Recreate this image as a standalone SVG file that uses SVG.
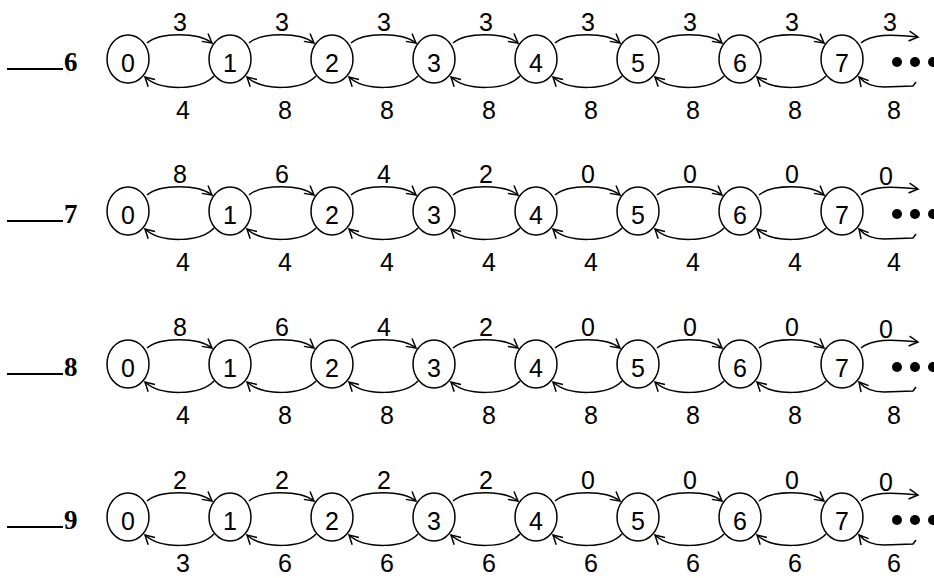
<svg xmlns="http://www.w3.org/2000/svg" width="934" height="578" viewBox="0 0 934 578">
<style>
.n ellipse{fill:#fff;stroke:#000;stroke-width:1.5}
.n text{font-family:"Liberation Sans Narrow","Liberation Sans",Arial,sans-serif;font-size:25px;text-anchor:middle;fill:#000}
.c path{fill:none;stroke:#000;stroke-width:1.5;marker-end:url(#ah)}
.lb{font-family:"Liberation Sans",Arial,sans-serif;font-size:25px;text-anchor:middle;fill:#000}
.rl line{stroke:#000;stroke-width:2}
.rl text{font-family:"Liberation Serif","Times New Roman",serif;font-weight:bold;font-size:27px;fill:#000}
.dot{fill:#000}
</style>
<defs>
<marker id="ah" markerUnits="userSpaceOnUse" markerWidth="14" markerHeight="14" refX="10" refY="5" orient="auto" viewBox="0 0 14 10" overflow="visible">
<path d="M1,0 L10,5 L1,10" fill="none" stroke="#000" stroke-width="1.5"/>
</marker>
</defs>

<!-- Row labels -->
<g id="row6" class="rl"><line x1="7" y1="69" x2="63" y2="69"/><text x="64" y="71">6</text></g>
<g id="row7" class="rl"><line x1="7" y1="221" x2="63" y2="221"/><text x="64" y="223">7</text></g>
<g id="row8" class="rl"><line x1="7" y1="374" x2="63" y2="374"/><text x="64" y="376">8</text></g>
<g id="row9" class="rl"><line x1="7" y1="527" x2="63" y2="527"/><text x="64" y="529">9</text></g>

<!-- Connectors -->
<g id="connectors" class="c">
<!-- row 1 cy=59 -->
<path d="M147,43 C160,32 198,32 212,43"/>
<path d="M249,43 C262,32 300,32 314,43"/>
<path d="M351,43 C364,32 402,32 416,43"/>
<path d="M453,43 C466,32 504,32 518,43"/>
<path d="M555,43 C568,32 606,32 620,43"/>
<path d="M657,43 C670,32 708,32 722,43"/>
<path d="M759,43 C772,32 810,32 824,43"/>
<path d="M861,43 C872,34 890,34 918,37"/>
<path d="M214,76 C200,91 160,91 145,77"/>
<path d="M316,76 C302,91 262,91 247,77"/>
<path d="M418,76 C404,91 364,91 349,77"/>
<path d="M520,76 C506,91 466,91 451,77"/>
<path d="M622,76 C608,91 568,91 553,77"/>
<path d="M724,76 C710,91 670,91 655,77"/>
<path d="M826,76 C812,91 772,91 757,77"/>
<path d="M916,82 L913,86 L884,87 C872,87 865,84 859,77"/>
<!-- row 2 cy=211 -->
<path d="M147,195 C160,184 198,184 212,195"/>
<path d="M249,195 C262,184 300,184 314,195"/>
<path d="M351,195 C364,184 402,184 416,195"/>
<path d="M453,195 C466,184 504,184 518,195"/>
<path d="M555,195 C568,184 606,184 620,195"/>
<path d="M657,195 C670,184 708,184 722,195"/>
<path d="M759,195 C772,184 810,184 824,195"/>
<path d="M861,195 C872,186 890,186 918,189"/>
<path d="M214,228 C200,243 160,243 145,229"/>
<path d="M316,228 C302,243 262,243 247,229"/>
<path d="M418,228 C404,243 364,243 349,229"/>
<path d="M520,228 C506,243 466,243 451,229"/>
<path d="M622,228 C608,243 568,243 553,229"/>
<path d="M724,228 C710,243 670,243 655,229"/>
<path d="M826,228 C812,243 772,243 757,229"/>
<path d="M916,234 L913,238 L884,239 C872,239 865,236 859,229"/>
<!-- row 3 cy=364 -->
<path d="M147,348 C160,337 198,337 212,348"/>
<path d="M249,348 C262,337 300,337 314,348"/>
<path d="M351,348 C364,337 402,337 416,348"/>
<path d="M453,348 C466,337 504,337 518,348"/>
<path d="M555,348 C568,337 606,337 620,348"/>
<path d="M657,348 C670,337 708,337 722,348"/>
<path d="M759,348 C772,337 810,337 824,348"/>
<path d="M861,348 C872,339 890,339 918,342"/>
<path d="M214,381 C200,396 160,396 145,382"/>
<path d="M316,381 C302,396 262,396 247,382"/>
<path d="M418,381 C404,396 364,396 349,382"/>
<path d="M520,381 C506,396 466,396 451,382"/>
<path d="M622,381 C608,396 568,396 553,382"/>
<path d="M724,381 C710,396 670,396 655,382"/>
<path d="M826,381 C812,396 772,396 757,382"/>
<path d="M916,387 L913,391 L884,392 C872,392 865,389 859,382"/>
<!-- row 4 cy=517 -->
<path d="M147,501 C160,490 198,490 212,501"/>
<path d="M249,501 C262,490 300,490 314,501"/>
<path d="M351,501 C364,490 402,490 416,501"/>
<path d="M453,501 C466,490 504,490 518,501"/>
<path d="M555,501 C568,490 606,490 620,501"/>
<path d="M657,501 C670,490 708,490 722,501"/>
<path d="M759,501 C772,490 810,490 824,501"/>
<path d="M861,501 C872,492 890,492 918,495"/>
<path d="M214,534 C200,549 160,549 145,535"/>
<path d="M316,534 C302,549 262,549 247,535"/>
<path d="M418,534 C404,549 364,549 349,535"/>
<path d="M520,534 C506,549 466,549 451,535"/>
<path d="M622,534 C608,549 568,549 553,535"/>
<path d="M724,534 C710,549 670,549 655,535"/>
<path d="M826,534 C812,549 772,549 757,535"/>
<path d="M916,540 L913,544 L884,545 C872,545 865,542 859,535"/>
</g>

<!-- Edge labels -->
<g id="labels" class="lb">
<text x="180" y="31">3</text><text x="282" y="31">3</text><text x="384" y="31">3</text><text x="486" y="31">3</text><text x="588" y="31">3</text><text x="690" y="31">3</text><text x="792" y="31">3</text><text x="890" y="31">3</text>
<text x="183" y="119">4</text><text x="285" y="119">8</text><text x="387" y="119">8</text><text x="489" y="119">8</text><text x="591" y="119">8</text><text x="693" y="119">8</text><text x="795" y="119">8</text><text x="894" y="119">8</text>
<text x="180" y="183">8</text><text x="282" y="183">6</text><text x="384" y="183">4</text><text x="486" y="183">2</text><text x="588" y="183">0</text><text x="690" y="183">0</text><text x="792" y="183">0</text><text x="886" y="185">0</text>
<text x="183" y="271">4</text><text x="285" y="271">4</text><text x="387" y="271">4</text><text x="489" y="271">4</text><text x="591" y="271">4</text><text x="693" y="271">4</text><text x="795" y="271">4</text><text x="894" y="271">4</text>
<text x="180" y="336">8</text><text x="282" y="336">6</text><text x="384" y="336">4</text><text x="486" y="336">2</text><text x="588" y="336">0</text><text x="690" y="336">0</text><text x="792" y="336">0</text><text x="886" y="338">0</text>
<text x="183" y="424">4</text><text x="285" y="424">8</text><text x="387" y="424">8</text><text x="489" y="424">8</text><text x="591" y="424">8</text><text x="693" y="424">8</text><text x="795" y="424">8</text><text x="894" y="424">8</text>
<text x="180" y="489">2</text><text x="282" y="489">2</text><text x="384" y="489">2</text><text x="486" y="489">2</text><text x="588" y="489">0</text><text x="690" y="489">0</text><text x="792" y="489">0</text><text x="886" y="491">0</text>
<text x="183" y="572">3</text><text x="285" y="572">6</text><text x="387" y="572">6</text><text x="489" y="572">6</text><text x="591" y="572">6</text><text x="693" y="572">6</text><text x="795" y="572">6</text><text x="894" y="572">6</text>
</g>

<!-- Nodes row 1 -->
<g id="r6n0" class="n"><ellipse cx="128" cy="59" rx="21" ry="24"/><text x="128" y="72">0</text></g>
<g id="r6n1" class="n"><ellipse cx="230" cy="59" rx="21" ry="24"/><text x="230" y="72">1</text></g>
<g id="r6n2" class="n"><ellipse cx="332" cy="59" rx="21" ry="24"/><text x="332" y="72">2</text></g>
<g id="r6n3" class="n"><ellipse cx="434" cy="59" rx="21" ry="24"/><text x="434" y="72">3</text></g>
<g id="r6n4" class="n"><ellipse cx="536" cy="59" rx="21" ry="24"/><text x="536" y="72">4</text></g>
<g id="r6n5" class="n"><ellipse cx="638" cy="59" rx="21" ry="24"/><text x="638" y="72">5</text></g>
<g id="r6n6" class="n"><ellipse cx="740" cy="59" rx="21" ry="24"/><text x="740" y="72">6</text></g>
<g id="r6n7" class="n"><ellipse cx="842" cy="59" rx="21" ry="24"/><text x="842" y="72">7</text></g>
<g id="r6more"><circle class="dot" cx="897" cy="62" r="5"/><circle class="dot" cx="915" cy="62" r="5"/><circle class="dot" cx="933" cy="62" r="5"/></g>
<!-- Nodes row 2 -->
<g id="r7n0" class="n"><ellipse cx="128" cy="211" rx="21" ry="24"/><text x="128" y="224">0</text></g>
<g id="r7n1" class="n"><ellipse cx="230" cy="211" rx="21" ry="24"/><text x="230" y="224">1</text></g>
<g id="r7n2" class="n"><ellipse cx="332" cy="211" rx="21" ry="24"/><text x="332" y="224">2</text></g>
<g id="r7n3" class="n"><ellipse cx="434" cy="211" rx="21" ry="24"/><text x="434" y="224">3</text></g>
<g id="r7n4" class="n"><ellipse cx="536" cy="211" rx="21" ry="24"/><text x="536" y="224">4</text></g>
<g id="r7n5" class="n"><ellipse cx="638" cy="211" rx="21" ry="24"/><text x="638" y="224">5</text></g>
<g id="r7n6" class="n"><ellipse cx="740" cy="211" rx="21" ry="24"/><text x="740" y="224">6</text></g>
<g id="r7n7" class="n"><ellipse cx="842" cy="211" rx="21" ry="24"/><text x="842" y="224">7</text></g>
<g id="r7more"><circle class="dot" cx="897" cy="214" r="5"/><circle class="dot" cx="915" cy="214" r="5"/><circle class="dot" cx="933" cy="214" r="5"/></g>
<!-- Nodes row 3 -->
<g id="r8n0" class="n"><ellipse cx="128" cy="364" rx="21" ry="24"/><text x="128" y="377">0</text></g>
<g id="r8n1" class="n"><ellipse cx="230" cy="364" rx="21" ry="24"/><text x="230" y="377">1</text></g>
<g id="r8n2" class="n"><ellipse cx="332" cy="364" rx="21" ry="24"/><text x="332" y="377">2</text></g>
<g id="r8n3" class="n"><ellipse cx="434" cy="364" rx="21" ry="24"/><text x="434" y="377">3</text></g>
<g id="r8n4" class="n"><ellipse cx="536" cy="364" rx="21" ry="24"/><text x="536" y="377">4</text></g>
<g id="r8n5" class="n"><ellipse cx="638" cy="364" rx="21" ry="24"/><text x="638" y="377">5</text></g>
<g id="r8n6" class="n"><ellipse cx="740" cy="364" rx="21" ry="24"/><text x="740" y="377">6</text></g>
<g id="r8n7" class="n"><ellipse cx="842" cy="364" rx="21" ry="24"/><text x="842" y="377">7</text></g>
<g id="r8more"><circle class="dot" cx="897" cy="367" r="5"/><circle class="dot" cx="915" cy="367" r="5"/><circle class="dot" cx="933" cy="367" r="5"/></g>
<!-- Nodes row 4 -->
<g id="r9n0" class="n"><ellipse cx="128" cy="517" rx="21" ry="24"/><text x="128" y="530">0</text></g>
<g id="r9n1" class="n"><ellipse cx="230" cy="517" rx="21" ry="24"/><text x="230" y="530">1</text></g>
<g id="r9n2" class="n"><ellipse cx="332" cy="517" rx="21" ry="24"/><text x="332" y="530">2</text></g>
<g id="r9n3" class="n"><ellipse cx="434" cy="517" rx="21" ry="24"/><text x="434" y="530">3</text></g>
<g id="r9n4" class="n"><ellipse cx="536" cy="517" rx="21" ry="24"/><text x="536" y="530">4</text></g>
<g id="r9n5" class="n"><ellipse cx="638" cy="517" rx="21" ry="24"/><text x="638" y="530">5</text></g>
<g id="r9n6" class="n"><ellipse cx="740" cy="517" rx="21" ry="24"/><text x="740" y="530">6</text></g>
<g id="r9n7" class="n"><ellipse cx="842" cy="517" rx="21" ry="24"/><text x="842" y="530">7</text></g>
<g id="r9more"><circle class="dot" cx="897" cy="520" r="5"/><circle class="dot" cx="915" cy="520" r="5"/><circle class="dot" cx="933" cy="520" r="5"/></g>
</svg>
